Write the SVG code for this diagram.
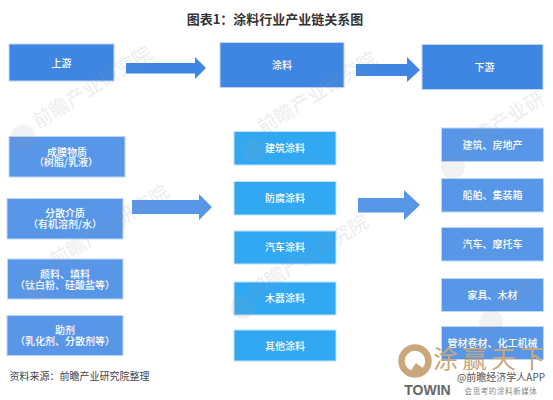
<svg xmlns="http://www.w3.org/2000/svg" width="553" height="400" viewBox="0 0 553 400">
<style>
text{font-family:"Noto Sans CJK SC","Noto Sans",sans-serif;text-anchor:middle}
.l{fill:#fff;font-size:10px;font-weight:500}
.d{fill:#3F86E2;stroke:#BFD6F5;stroke-width:1}
.m{fill:#5896E8;stroke:#BFD6F5;stroke-width:1}
.c{fill:#33A8F2;stroke:#BFE2FA;stroke-width:1}
.w{fill:#8F99A6;fill-opacity:.17;font-size:19.500px;font-weight:500;text-anchor:start}
.wc{fill:#8F99A6;fill-opacity:.13}
</style>
<rect width="553" height="400" fill="#fff"/>
<text x="275" y="23.500" font-size="13" font-weight="700" fill="#333">图表1：涂料行业产业链关系图</text>
<g id="connectors" fill="#3F86E2">
<path id="arrow-1" d="M126 63H195V57L206 68L195 79V73.500H126Z"/>
<path id="arrow-2" d="M356 64H407V57L420 70L407 82V76H356Z"/>
<path id="arrow-3" fill="#5896E8" d="M132 200H199V194L212 207L199 220V214H132Z"/>
<path id="arrow-4" fill="#5896E8" d="M358 198H404V190L420 205L404 220V212.500H358Z"/>
</g>
<g id="upstream"><rect class="d" x="9" y="44" width="105" height="37"/><text class="l" x="61.500" y="67">上游</text></g>
<g id="coating"><rect class="d" x="220" y="42.500" width="124" height="45"/><text class="l" x="282" y="69">涂料</text></g>
<g id="downstream"><rect class="d" x="422" y="44.500" width="121" height="45"/><text class="l" x="484.500" y="71">下游</text></g>
<g id="u1"><rect class="m" x="9" y="136.500" width="116" height="40.500"/><text class="l" x="67" y="155.500">成膜物质</text><text class="l" x="66" y="166">（树脂/乳液）</text></g>
<g id="u2"><rect class="m" x="7" y="198.500" width="116" height="40.500"/><text class="l" x="65" y="217">分散介质</text><text class="l" x="65" y="228">（有机溶剂/水）</text></g>
<g id="u3"><rect class="m" x="7.500" y="259" width="115.500" height="40"/><text class="l" x="65" y="278">颜料、填料</text><text class="l" x="65" y="289">（钛白粉、硅酸盐等）</text></g>
<g id="u4"><rect class="m" x="7" y="315.500" width="116" height="40"/><text class="l" x="65" y="334">助剂</text><text class="l" x="65" y="345">（乳化剂、分散剂等）</text></g>
<g id="c1"><rect class="c" x="234" y="131.500" width="102" height="33.500"/><text class="l" x="285" y="152">建筑涂料</text></g>
<g id="c2"><rect class="c" x="234" y="181.500" width="102" height="33.500"/><text class="l" x="285" y="202">防腐涂料</text></g>
<g id="c3"><rect class="c" x="234" y="231" width="102" height="33"/><text class="l" x="285" y="251">汽车涂料</text></g>
<g id="c4"><rect class="c" x="234" y="282" width="102" height="33"/><text class="l" x="285" y="302">木器涂料</text></g>
<g id="c5"><rect class="c" x="234" y="330" width="102" height="31"/><text class="l" x="285" y="350">其他涂料</text></g>
<g id="d1"><rect class="m" x="441.500" y="128" width="102" height="33.500"/><text class="l" x="492.500" y="149">建筑、房地产</text></g>
<g id="d2"><rect class="m" x="441.500" y="178.500" width="102" height="33.500"/><text class="l" x="492.500" y="199">船舶、集装箱</text></g>
<g id="d3"><rect class="m" x="441.500" y="227.500" width="102" height="33.500"/><text class="l" x="492.500" y="248">汽车、摩托车</text></g>
<g id="d4"><rect class="m" x="441.500" y="278.500" width="102" height="33"/><text class="l" x="492.500" y="299">家具、木材</text></g>
<g id="d5"><rect class="m" x="441.500" y="326.500" width="102" height="33"/><text class="l" x="492.500" y="347">管材卷材、化工机械</text></g>
<g id="watermarks">
<text class="w" transform="translate(38,129) rotate(-32)">前瞻产业研究院</text>
<text class="w" transform="translate(55,268) rotate(-32)">前瞻产业研究院</text>
<text class="w" transform="translate(263,135) rotate(-32)">前瞻产业研究院</text>
<text class="w" transform="translate(254,298) rotate(-32)">前瞻产业研究院</text>
<text class="w" transform="translate(463,154) rotate(-32)">前瞻产业研</text>
<text class="w" transform="translate(503,312) rotate(-32)">前瞻</text>
<circle class="wc" cx="23" cy="138" r="13"/>
<circle class="wc" cx="35" cy="288" r="12"/>
<circle class="wc" cx="253" cy="150" r="12"/>
<circle class="wc" cx="243" cy="307" r="12"/>
<circle class="wc" cx="453" cy="167" r="12"/>
<circle class="wc" cx="491" cy="322" r="12"/>
</g>
<text x="79.500" y="380" font-size="10" fill="#444">资料来源：前瞻产业研究院整理</text>
<g id="logo">
<circle cx="415" cy="361" r="13.500" fill="none" stroke="#C9A77A" stroke-width="6.500"/>
<path d="M407 376L416 363L428 372Z" fill="#C9A77A"/>
<text x="491" y="368" font-size="25" fill="#C9A77A" style="letter-spacing:4px">涂赢天下</text>
<text x="501" y="381" font-size="10" fill="#555">@前瞻经济学人APP</text>
<text x="427.500" y="395" font-size="14" font-weight="700" fill="#666" font-family="Liberation Sans" style="font-family:'Liberation Sans'">TOWIN</text>
<text x="501" y="394" font-size="7.500" fill="#888" style="letter-spacing:.6px">会思考的涂料新媒体</text>
</g>
</svg>
